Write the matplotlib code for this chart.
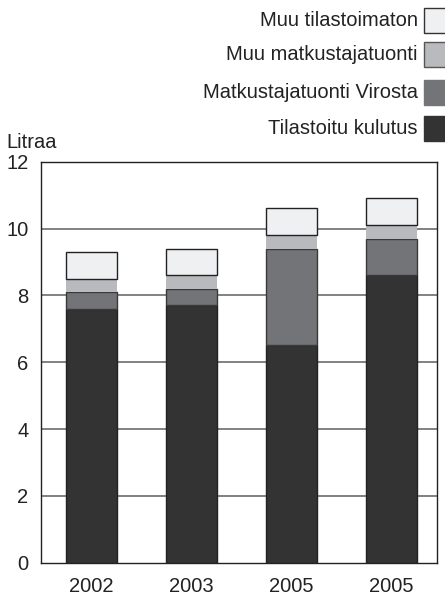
import matplotlib
matplotlib.use("Agg")
import matplotlib.pyplot as plt
from matplotlib.patches import Rectangle

plt.rcParams['font.family'] = ['Liberation Sans', 'DejaVu Sans']

years = ["2002", "2003", "2005", "2005"]
tilastoitu = [7.6, 7.7, 6.5, 8.6]
virosta = [0.5, 0.5, 2.9, 1.1]
muu_matk = [0.4, 0.4, 0.4, 0.4]
muu_tilastoimaton = [0.8, 0.8, 0.8, 0.8]

series = [
    ("Tilastoitu kulutus", tilastoitu, "#333333", "#222222", 1.0),
    ("Matkustajatuonti Virosta", virosta, "#737477", "#3a3a3a", 1.0),
    ("Muu matkustajatuonti", muu_matk, "#b9babd", "none", 0.0),
    ("Muu tilastoimaton", muu_tilastoimaton, "#eff0f2", "#222222", 1.0),
]

FS = 14.5
W, H = 445, 597
fig = plt.figure(figsize=(W / 100, H / 100), dpi=100)
ax = fig.add_axes([41 / W, (H - 562.7) / H, 396 / W, 401 / H])

x = list(range(len(years)))
bottom = [0.0] * len(years)
for name, vals, fc, ec, lw in series:
    ax.bar(x, vals, width=0.51, bottom=bottom, color=fc, edgecolor=ec,
           linewidth=lw, zorder=3)
    bottom = [b + v for b, v in zip(bottom, vals)]

ax.set_ylim(0, 12)
ax.set_xlim(-0.505, 3.455)
ax.set_yticks([0, 2, 4, 6, 8, 10, 12])
ax.set_yticklabels(["0", "2", "4", "6", "8", "10", "12"])
ax.set_xticks(x)
ax.set_xticklabels(years)
ax.tick_params(axis='both', length=0, labelsize=FS, colors='#222222')
ax.tick_params(axis='y', pad=9)
ax.tick_params(axis='x', pad=10)
for y in [2, 4, 6, 8, 10]:
    ax.axhline(y, color='#777777', linewidth=1.3, zorder=1)
for s in ax.spines.values():
    s.set_color('#222222')
    s.set_linewidth(1.0)

fig.text(6 / W, 1 - 143 / H, "Litraa", fontsize=FS, ha='left', va='center',
         color='#222222')

# legend
legend_rows = [
    ("Muu tilastoimaton", "#eff0f2", "#333333", 20.5),
    ("Muu matkustajatuonti", "#b9babd", "#555555", 54),
    ("Matkustajatuonti Virosta", "#737477", "#737477", 92.5),
    ("Tilastoitu kulutus", "#333333", "#333333", 128),
]
for label, fc, ec, yc in legend_rows:
    fig.text(418 / W, 1 - yc / H, label, fontsize=FS, ha='right', va='center',
             color='#222222')
    fig.patches.append(Rectangle((424 / W, 1 - (yc + 12.5) / H), 24 / W, 25 / H,
                                 transform=fig.transFigure, facecolor=fc,
                                 edgecolor=ec, linewidth=1.0))

fig.savefig("out.png", dpi=100)
